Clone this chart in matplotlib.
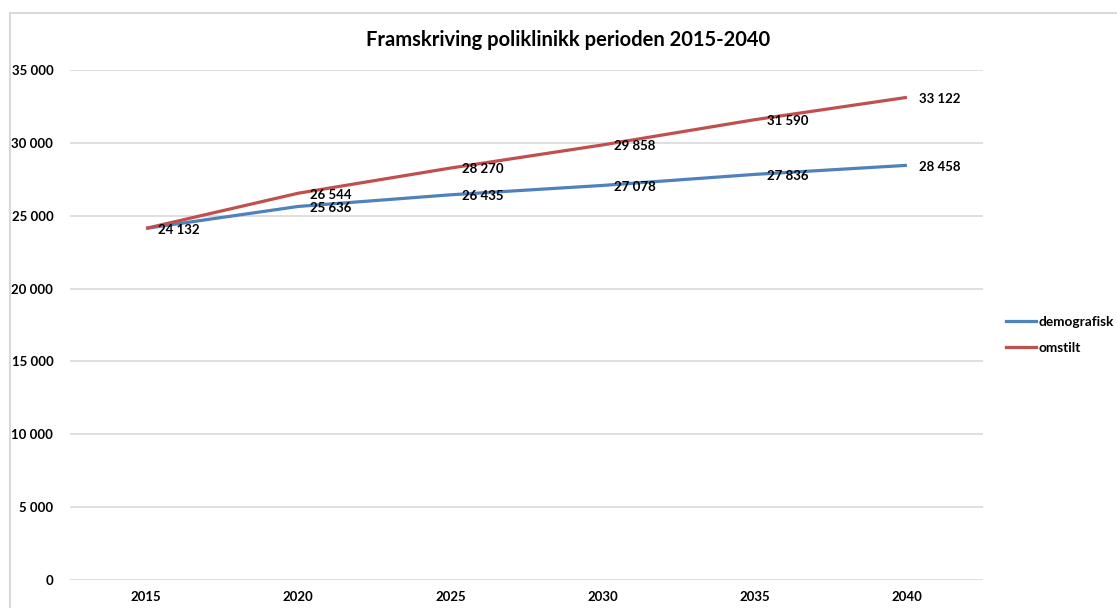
import matplotlib.pyplot as plt
from matplotlib.patches import Rectangle
from matplotlib.lines import Line2D

years = ['2015', '2020', '2025', '2030', '2035', '2040']
demografisk = [24132, 25636, 26435, 27078, 27836, 28458]
omstilt = [24132, 26544, 28270, 29858, 31590, 33122]
yticks = [0, 5000, 10000, 15000, 20000, 25000, 30000, 35000]

plt.rcParams['font.family'] = ['Lato', 'DejaVu Sans']

blue = '#4f81bd'
red = '#c0504d'


def fmt(v):
    # space as thousands separator
    return f'{v:,}'.replace(',', ' ')


fig = plt.figure(figsize=(11.17, 6.08), dpi=100)

# chart border (light gray, only top and left visible)
fig.patches.append(Rectangle((10 / 1117, -0.1), 1.2, 1 - 13 / 608 + 0.1,
                             transform=fig.transFigure, fill=False,
                             edgecolor='#d9d9d9', linewidth=1.5))

ax = fig.add_axes([70 / 1117, 1 - 580 / 608, (983 - 70) / 1117, (580 - 70) / 608])
x = list(range(len(years)))

ax.plot(x, demografisk, color=blue, linewidth=2.3, solid_capstyle='butt')
ax.plot(x, omstilt, color=red, linewidth=2.3, solid_capstyle='butt')

for i, v in enumerate(demografisk):
    ax.annotate(fmt(v), (i, v), xytext=(8.5, -1), textcoords='offset points',
                ha='left', va='center', fontsize=9.5, fontweight='bold')
# first point is shared with demografisk, so skip its label
for i, v in enumerate(omstilt[1:], start=1):
    ax.annotate(fmt(v), (i, v), xytext=(8.5, -1), textcoords='offset points',
                ha='left', va='center', fontsize=9.5, fontweight='bold')

ax.set_xlim(-0.5, 5.5)
ax.set_ylim(0, 35000)
ax.set_yticks(yticks)
ax.set_yticklabels([fmt(v) for v in yticks], fontsize=9.5, fontweight='bold')
ax.set_xticks(x)
ax.set_xticklabels(years, fontsize=9.5, fontweight='bold')
ax.tick_params(length=0, pad=12)
ax.tick_params(axis='x', pad=8)
ax.grid(axis='y', color='#d9d9d9', linewidth=1.2)
ax.set_axisbelow(True)
for s in ax.spines.values():
    s.set_visible(False)

fig.text(568 / 1117, 1 - 40 / 608, 'Framskriving poliklinikk perioden 2015-2040',
         ha='center', va='center', fontsize=14.5, fontweight='bold')

handles = [Line2D([], [], color=blue, linewidth=2.3),
           Line2D([], [], color=red, linewidth=2.3)]
fig.legend(handles, ['demografisk', 'omstilt'], loc='upper left',
           bbox_to_anchor=(1006 / 1117, 1 - 316 / 608), frameon=False,
           borderpad=0, borderaxespad=0,
           handlelength=2.2, handletextpad=0.2, labelspacing=1.0,
           prop={'size': 9.8, 'weight': 'bold'})

fig.savefig('out.png', dpi=100)
